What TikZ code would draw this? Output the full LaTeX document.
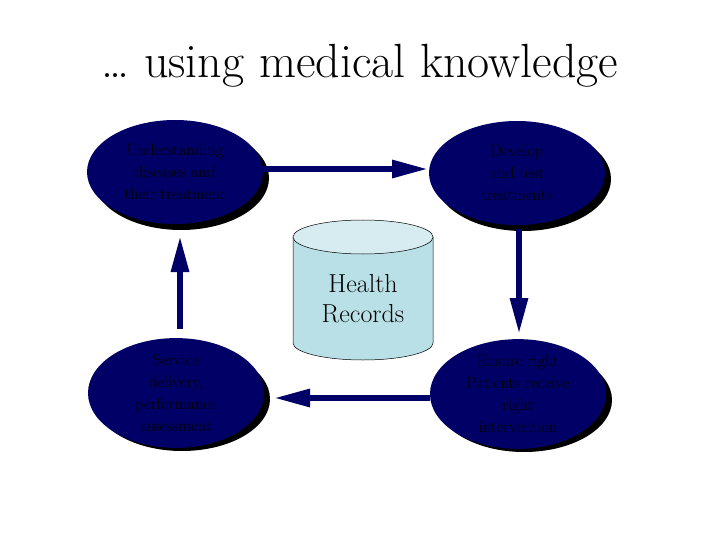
\documentclass[tikz,border=0pt]{standalone}
\usetikzlibrary{arrows.meta,shapes.geometric}
\definecolor{navy}{RGB}{0,0,102}
\definecolor{cylbody}{RGB}{185,224,230}
\definecolor{cyltop}{RGB}{214,236,240}
\begin{document}
\begin{tikzpicture}[x=1pt,y=-1pt,
  blob/.style={ellipse,fill=navy,minimum width=176pt,minimum height=104pt,inner sep=0pt,
    align=center,font=\fontsize{16.5}{22}\selectfont,text=black},
  shad/.style={ellipse,fill=black,minimum width=176pt,minimum height=104pt,inner sep=0pt},
  flow/.style={draw=navy,line width=6pt,-{Triangle[length=36pt,width=17pt]},color=navy}]
\useasboundingbox (0,0) rectangle (720,540);
\node[font=\fontsize{48}{54}\selectfont] (title) at (360,66) {\dots{} using medical knowledge};
% shadows
\node[shad] (s1) at (181,178) {};
\node[shad] (s2) at (523,179) {};
\node[shad] (s3) at (182,399) {};
\node[shad] (s4) at (524,400) {};
% ellipses
\node[blob] (tl) at (175,172) {Understanding\\diseases and\\their treatment};
\node[blob] (tr) at (517,173) {Develop\\and test\\treatments};
\node[blob] (bl) at (176,393) {Service\\delivery,\\performance\\assessment};
\node[blob] (br) at (518,394) {Ensure right\\Patients receive\\right\\intervention};
% cylinder
\coordinate (ct) at (363,237);
\fill[cylbody,draw=black,line width=0.5pt] (293,237) -- (293,343) arc[start angle=180,end angle=0,x radius=70,y radius=17] -- (433,237);
\draw[black,line width=0.5pt,fill=cyltop] (ct) ellipse[x radius=70,y radius=17];
\node[font=\fontsize{26}{30}\selectfont,align=center] (hr) at (363,299) {Health\\Records};
% arrows
\coordinate (a1s) at (262,169); \coordinate (a1e) at (428,169);
\coordinate (a2s) at (519,229); \coordinate (a2e) at (519,334);
\coordinate (a3s) at (430,398); \coordinate (a3e) at (274,398);
\coordinate (a4s) at (180,329); \coordinate (a4e) at (180,236);
\draw[flow] (a1s) -- (a1e);
\draw[flow] (a2s) -- (a2e);
\draw[flow] (a3s) -- (a3e);
\draw[flow] (a4s) -- (a4e);
\end{tikzpicture}
\end{document}
